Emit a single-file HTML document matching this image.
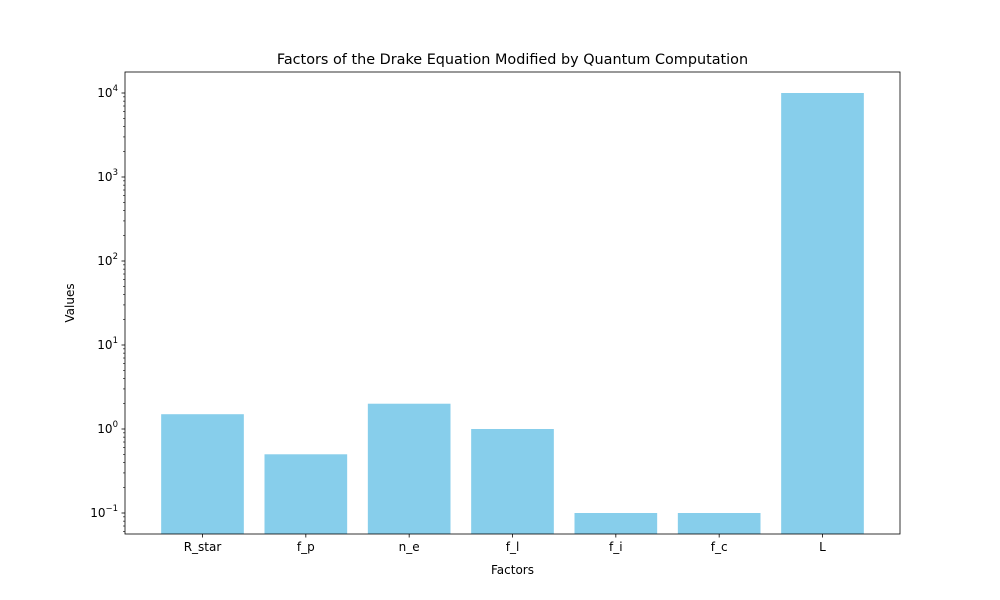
<!DOCTYPE html>
<html><head><meta charset="utf-8"><style>body{margin:0;background:#fff}svg{display:block}</style></head>
<body>
<svg id="chart" width="1000" height="600" xmlns="http://www.w3.org/2000/svg" font-family="DejaVu Sans, Liberation Sans, sans-serif">
<rect width="1000" height="600" fill="#fff"/>
<text x="512.5" y="64" font-size="14.4" text-anchor="middle">Factors of the Drake Equation Modified by Quantum Computation</text>
<text x="512.5" y="574" font-size="12" text-anchor="middle">Factors</text>
<text x="74" y="303" font-size="12" text-anchor="middle" transform="rotate(-90 74 303)">Values</text>
<g id="bars"></g><g id="axes"></g>
</svg>
<script>
const categories = ["R_star","f_p","n_e","f_l","f_i","f_c","L"];
const values = [1.5,0.5,2,1,0.1,0.1,10000];
const yTickExps = [-1,0,1,2,3,4];
const L=125,R=900,T=72,B=534;
const logMin=-1.25, logMax=4.25;
function y(v){return B-(Math.log10(v)-logMin)/(logMax-logMin)*(B-T);}
const step=(R-L)/(categories.length+0.5);
function x(i){return L+(i+0.75)*step;}
const NS="http://www.w3.org/2000/svg";
function mk(t,a,p){const e=document.createElementNS(NS,t);for(const k in a)e.setAttribute(k,a[k]);p.appendChild(e);return e;}
const bars=document.getElementById('bars'), axes=document.getElementById('axes');
categories.forEach((c,i)=>{
  const w=step*0.8, top=y(values[i]);
  const r=mk('rect',{x:x(i)-w/2,y:top,width:w,height:B-top,fill:'#87ceeb'},bars);
  
  
  mk('line',{x1:x(i),x2:x(i),y1:B,y2:B+3.5,stroke:'#000','stroke-width':0.8},axes);
  const t=mk('text',{x:x(i),y:B+17,'font-size':12,'text-anchor':'middle'},axes);
  t.textContent=c;
  
  
});
for(let e=-2;e<=4;e++){for(let m=2;m<=9;m++){const v=m*Math.pow(10,e);const lv=Math.log10(v);if(lv<logMin||lv>logMax)continue;
  mk('line',{x1:L-2,x2:L,y1:y(v),y2:y(v),stroke:'#000','stroke-width':0.6},axes);}}
yTickExps.forEach(e=>{
  const yy=y(Math.pow(10,e));
  mk('line',{x1:L-3.5,x2:L,y1:yy,y2:yy,stroke:'#000','stroke-width':0.8},axes);
  const t=mk('text',{x:L-7,y:yy+4,'font-size':12,'text-anchor':'end'},axes);
  
  
  const a=document.createElementNS(NS,'tspan');a.textContent='10';t.appendChild(a);
  const b=document.createElementNS(NS,'tspan');b.setAttribute('dy','-6');b.setAttribute('font-size','8.5');b.textContent=e<0?'\u2212'+(-e):String(e);t.appendChild(b);
});
const f=mk('rect',{x:L,y:T,width:R-L,height:B-T,fill:'none',stroke:'#000','stroke-width':0.8},axes);


</script>
</body></html>
